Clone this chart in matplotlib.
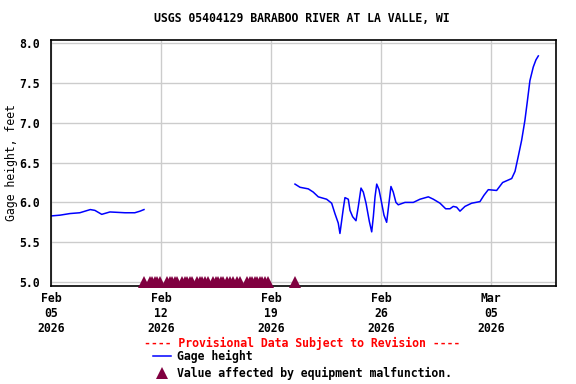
import numpy as np
import pandas as pd
import matplotlib
matplotlib.use("Agg")
import matplotlib.pyplot as plt

# Gage height, first stretch of record (feet)
seg1_times = ["2026-02-05 00:00", "2026-02-05 14:00", "2026-02-06 05:00", "2026-02-06 20:00",
              "2026-02-07 12:00", "2026-02-07 19:00", "2026-02-08 05:30", "2026-02-08 18:00",
              "2026-02-09 17:00", "2026-02-10 08:00", "2026-02-10 16:00", "2026-02-10 22:00"]
seg1_height = [5.83, 5.84, 5.86, 5.87, 5.91, 5.90, 5.85, 5.88, 5.87, 5.87, 5.89, 5.91]

# Gage height, second stretch of record (feet)
seg2_times = ["2026-02-20 12:40", "2026-02-20 20:20", "2026-02-21 09:00", "2026-02-21 16:30",
              "2026-02-22 00:15", "2026-02-22 13:00", "2026-02-22 20:40", "2026-02-23 01:40",
              "2026-02-23 06:45", "2026-02-23 09:20", "2026-02-23 14:25", "2026-02-23 17:00",
              "2026-02-23 22:05", "2026-02-24 00:40", "2026-02-24 04:45", "2026-02-24 09:50",
              "2026-02-24 13:25", "2026-02-24 17:30", "2026-02-24 21:00", "2026-02-25 01:10",
              "2026-02-25 06:15", "2026-02-25 09:50", "2026-02-25 12:20", "2026-02-25 14:55",
              "2026-02-25 17:30", "2026-02-25 21:00", "2026-02-26 01:05", "2026-02-26 04:35",
              "2026-02-26 08:40", "2026-02-26 12:10", "2026-02-26 15:15", "2026-02-26 18:45",
              "2026-02-26 22:50", "2026-02-27 02:25", "2026-02-27 12:40", "2026-02-28 01:25",
              "2026-02-28 11:35", "2026-03-01 00:20", "2026-03-01 08:00", "2026-03-01 18:10",
              "2026-03-02 02:50", "2026-03-02 09:25", "2026-03-02 14:25", "2026-03-02 19:35",
              "2026-03-03 00:40", "2026-03-03 08:20", "2026-03-03 18:30", "2026-03-04 07:10",
              "2026-03-04 13:20", "2026-03-04 19:55", "2026-03-05 08:40", "2026-03-05 17:50",
              "2026-03-06 07:40", "2026-03-06 12:45", "2026-03-06 17:45", "2026-03-06 22:50",
              "2026-03-07 03:50", "2026-03-07 07:25", "2026-03-07 11:30", "2026-03-07 16:35",
              "2026-03-07 20:40", "2026-03-08 00:20"]
seg2_height = [6.23, 6.19, 6.17, 6.13, 6.07, 6.04, 5.99, 5.86, 5.74, 5.61, 5.92, 6.06,
               6.04, 5.90, 5.82, 5.77, 5.95, 6.18, 6.13, 5.99, 5.76, 5.63, 5.82, 6.07,
               6.23, 6.16, 5.99, 5.84, 5.75, 5.99, 6.20, 6.13, 6.00, 5.97, 6.00, 6.00,
               6.04, 6.07, 6.04, 5.99, 5.92, 5.92, 5.95, 5.94, 5.89, 5.95, 5.99, 6.01,
               6.09, 6.16, 6.15, 6.25, 6.30, 6.39, 6.58, 6.78, 7.03, 7.26, 7.53, 7.70,
               7.79, 7.84]

# times flagged "equipment malfunction" (drawn along the bottom at 5.0 ft)
malf_times = ["2026-02-10 22:00",
              "2026-02-11 07:10", "2026-02-11 11:00", "2026-02-11 14:50", "2026-02-11 18:40", "2026-02-11 22:30",
              "2026-02-12 09:00", "2026-02-12 13:00", "2026-02-12 16:50", "2026-02-12 20:40", "2026-02-13 00:30",
              "2026-02-13 08:10", "2026-02-13 12:00", "2026-02-13 15:50", "2026-02-13 19:40", "2026-02-13 23:30",
              "2026-02-14 07:00", "2026-02-14 11:10", "2026-02-14 15:20", "2026-02-14 19:30", "2026-02-14 23:45",
              "2026-02-15 07:25", "2026-02-15 11:20", "2026-02-15 15:10", "2026-02-15 19:00", "2026-02-15 22:50",
              "2026-02-16 04:50", "2026-02-16 09:40", "2026-02-16 14:25", "2026-02-16 19:30", "2026-02-17 00:45",
              "2026-02-17 11:30", "2026-02-17 15:20", "2026-02-17 19:10", "2026-02-17 23:00", "2026-02-18 02:40",
              "2026-02-18 06:30", "2026-02-18 10:20", "2026-02-18 14:50", "2026-02-18 19:25",
              "2026-02-20 12:45"]
malf_level = 5.0

tick_dates = ["2026-02-05", "2026-02-12", "2026-02-19", "2026-02-26", "2026-03-05"]

title = "USGS 05404129 BARABOO RIVER AT LA VALLE, WI"

plt.rcParams["font.family"] = "DejaVu Sans Mono"
plt.rcParams["font.weight"] = "bold"
plt.rcParams["font.size"] = 8.3

line_color = "#0000ff"
malf_color = "#800040"

fig = plt.figure(figsize=(5.76, 3.84), dpi=100)
ax = fig.add_axes([51 / 576, 1 - 286 / 384, 505 / 576, 246 / 384])

t1 = pd.to_datetime(seg1_times)
t2 = pd.to_datetime(seg2_times)
tm = pd.to_datetime(malf_times)

gage_line, = ax.plot(t1, seg1_height, color=line_color, lw=1.1, label="Gage height")
ax.plot(t2, seg2_height, color=line_color, lw=1.1)
malf_pts, = ax.plot(tm, [malf_level] * len(tm), ls="none", marker="^", ms=8, mew=0,
                    color=malf_color, clip_on=False, zorder=3,
                    label="Value affected by equipment malfunction.")

ax.set_ylim(4.95, 8.04)
ax.set_yticks([5.0, 5.5, 6.0, 6.5, 7.0, 7.5, 8.0])
ax.set_yticklabels(["5.0", "5.5", "6.0", "6.5", "7.0", "7.5", "8.0"])
ax.set_xlim(pd.Timestamp("2026-02-05 00:00"), pd.Timestamp("2026-03-09 03:20"))
ticks = pd.to_datetime(tick_dates)
ax.set_xticks(ticks)
ax.set_xticklabels([d.strftime("%b\n%d\n%Y") for d in ticks], linespacing=1.2)

ax.grid(True, color="#cccccc", lw=1)
ax.set_axisbelow(True)
ax.tick_params(axis="both", length=0)
ax.tick_params(axis="y", pad=8)
ax.tick_params(axis="x", pad=4)
for s in ax.spines.values():
    s.set_linewidth(1.2)
    s.set_color("black")

ax.set_ylabel("Gage height, feet", labelpad=1)

fig.text(302 / 576, 1 - 19 / 384, title, ha="center", va="center")
fig.text(302 / 576, 1 - 343 / 384, "---- Provisional Data Subject to Revision ----",
         ha="center", va="center", color="red")
fig.legend(handles=[gage_line, malf_pts], loc="upper left",
           bbox_to_anchor=(153 / 576, 1 - 350 / 384), frameon=False,
           handlelength=1.6, handletextpad=0.45, labelspacing=0.3,
           borderpad=0, borderaxespad=0, numpoints=1)

fig.savefig("out.png", dpi=100)
